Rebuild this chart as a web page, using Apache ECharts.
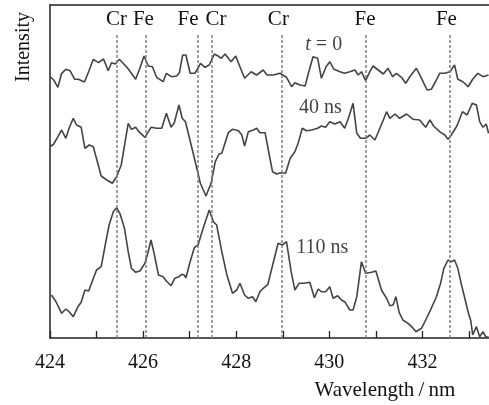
<!DOCTYPE html>
<html>
<head>
<meta charset="utf-8">
<script src="https://cdn.jsdelivr.net/npm/echarts@6/dist/echarts.min.js"></script>
<style>html,body{margin:0;padding:0;background:#fff}#c{width:489px;height:405px}</style>
</head>
<body>
<div id="c"></div>
<script>
// ---- data (wavelength in nm, intensity in arbitrary units) ----
var wl0 = [424.01,424.08,424.17,424.25,424.34,424.43,424.53,424.61,424.74,424.83,424.93,425.04,425.15,425.25,425.32,425.40,425.49,425.67,425.84,425.93,426.02,426.11,426.20,426.29,426.43,426.50,426.61,426.72,426.78,426.85,426.92,427.01,427.11,427.18,427.23,427.33,427.42,427.53,427.61,427.68,427.76,427.89,427.99,428.08,428.18,428.32,428.44,428.58,428.66,428.80,428.94,429.08,429.19,429.26,429.37,429.48,429.55,429.65,429.75,429.83,429.93,430.01,430.10,430.23,430.33,430.44,430.55,430.62,430.69,430.78,430.87,430.94,431.05,431.16,431.26,431.36,431.44,431.55,431.64,431.74,431.87,431.98,432.10,432.19,432.30,432.37,432.48,432.59,432.69,432.76,432.87,432.98,433.08,433.19,433.30,433.42];
var int0 = [261,258,250.7,264.7,268.7,267.3,258.7,258.7,256,266.3,278.7,275.3,279,267.3,275.3,274,278.7,269.7,258.7,269.7,282,272,271.3,260.7,256.3,264.7,261.3,262,265.3,283,283,264.7,264.7,269.7,274.7,270.7,273,284,282,279.7,284,276.3,282,271.3,259.7,266.3,263,268,263,263,264.7,260.7,251.3,255.3,253,252,264.7,281.3,279.7,259.7,271.3,276.3,268.7,266.3,264.7,266.3,268,263,266.3,257.3,266.3,272,268,264,269.7,261.3,264.7,260.7,254.7,262,269.7,259.7,248,248.7,258,264.7,264.7,266.3,273,258.7,256.3,251.3,258.7,264.7,261.3,263];

var wl40 = [424.01,424.08,424.17,424.25,424.34,424.41,424.50,424.57,424.67,424.75,424.84,424.93,425.10,425.22,425.34,425.43,425.53,425.68,425.75,425.84,425.91,426.04,426.17,426.29,426.40,426.50,426.60,426.67,426.77,426.84,426.91,427.12,427.23,427.35,427.46,427.55,427.63,427.69,427.83,427.92,428.05,428.12,428.18,428.26,428.37,428.44,428.51,428.62,428.71,428.78,428.87,428.96,429.06,429.16,429.26,429.33,429.42,429.51,429.62,429.75,429.83,429.92,430.01,430.12,430.23,430.33,430.41,430.51,430.59,430.67,430.78,430.87,430.98,431.07,431.16,431.23,431.30,431.41,431.51,431.66,431.80,431.94,432.07,432.16,432.24,432.37,432.48,432.55,432.62,432.74,432.86,432.96,433.07,433.16,433.23,433.30,433.37,433.42];
var int40 = [191.5,194,201.3,208,199.7,209.7,219.7,213,210.7,189.7,193,191.3,162,158,154.7,161.3,173,214.7,208.7,210.7,206.3,200.7,210.7,209.7,209.7,224.7,210.7,215.3,233,219.7,216.3,176.3,154.7,142,154.7,176.3,184,184.7,205.3,208.7,207.3,203,192,206.3,208,209.7,205.3,205.3,183,166.3,164,165.3,164.7,179.7,186.3,194.7,209.7,207.3,208,209.7,212,210.7,216.3,214,216.3,209.7,219.7,234.7,204.7,199.7,199.7,203,198,208,218,226.3,219.7,224,219.7,224,218.7,218,210.7,218,212,206.3,203,198.7,203,212,226.3,223,234.7,233,216.3,210.7,214,204.7];

var wl110 = [424.03,424.12,424.25,424.34,424.41,424.50,424.60,424.67,424.75,424.83,424.91,425.00,425.10,425.20,425.27,425.36,425.43,425.50,425.60,425.68,425.75,425.84,425.93,426.04,426.10,426.17,426.24,426.33,426.43,426.50,426.60,426.68,426.77,426.83,426.88,426.92,427.01,427.10,427.18,427.30,427.42,427.51,427.58,427.69,427.80,427.92,428.01,428.08,428.18,428.26,428.35,428.42,428.51,428.58,428.68,428.80,428.90,428.99,429.08,429.18,429.26,429.35,429.46,429.58,429.68,429.76,429.83,429.92,430.01,430.08,430.18,430.26,430.33,430.44,430.51,430.59,430.69,430.78,430.91,431.00,431.12,431.23,431.30,431.37,431.43,431.50,431.58,431.69,431.79,431.86,431.98,432.07,432.19,432.30,432.39,432.46,432.55,432.62,432.69,432.76,432.84,432.91,432.98,433.04,433.08,433.16,433.23,433.30,433.37,433.42];
var int110 = [43,37,24.7,29,26.3,21.3,31.3,35.7,48,47,57,68,71.3,96.3,113,126.3,130.3,124.7,109.7,86.3,69.7,65.7,67,74.7,84.7,98,83.7,63,61.3,57,52.3,59.7,61.3,63.7,63,60.3,76.3,90.3,93,111.3,128,116.3,113,86.3,63,44.7,48,54.7,43,39.7,41.3,36.3,46.3,49.7,53.7,76.3,94.7,93,96.3,66.3,48,54.7,54.7,55.7,40.3,49,46.3,46.3,51.3,39.7,42.3,38,36.3,28,28,41.3,76.3,64.7,65.7,67,48,39.7,32.3,33,41.3,25.7,18,14.7,10.3,6.3,9.7,18,29.7,41.3,54.7,69.7,78,76.3,78,69.7,53,39.7,26.3,17,3,11.3,1.3,6.3,0.5,1.3];

// emission lines
var lineWl = [425.43, 426.05, 427.18, 427.48, 428.97, 430.79, 432.58];
var lineEl = ['Cr', 'Fe', 'Fe', 'Cr', 'Cr', 'Fe', 'Fe'];
var lineLabelShift = [0, -2, -10, 4, -3, -1, -3];

// curve annotations
var annText = ['{i|t} = 0', '40 ns', '110 ns'];
var annWl = [429.88, 429.81, 429.85];
var annI = [293, 230, 90];

// axis
var xMin = 424, xMax = 433.43, yMin = 0, yMax = 333;

function zip(a, b) { return a.map(function (v, i) { return [v, b[i]]; }); }

var FONT = '"Liberation Serif", "DejaVu Serif", serif';
var lineStyle = { color: '#444', width: 1.6 };

var chart = echarts.init(document.getElementById('c'), null, { renderer: 'canvas' });
chart.setOption({
  animation: false,
  backgroundColor: '#fff',
  grid: { left: 50, top: 5, right: 0, bottom: 67, containLabel: false },
  xAxis: [{
    type: 'value', min: xMin, max: xMax, interval: 1,
    axisLine: { show: true, lineStyle: { color: '#222', width: 1.5 } },
    axisTick: { show: true, inside: true, length: 7, lineStyle: { color: '#222', width: 1.3 } },
    axisLabel: {
      show: true, color: '#111', fontFamily: FONT, fontSize: 20, margin: 15,
      showMaxLabel: false,
      formatter: function (v) {
        var r = Math.round(v);
        return (Math.abs(v - r) < 1e-6 && r % 2 === 0) ? String(r) : '';
      }
    },
    splitLine: { show: false }
  }, {
    type: 'value', position: 'top', min: xMin, max: xMax,
    axisLine: { show: true, lineStyle: { color: '#222', width: 1.5 } },
    axisTick: { show: false }, axisLabel: { show: false }, splitLine: { show: false }
  }],
  yAxis: {
    type: 'value', min: yMin, max: yMax,
    axisLine: { show: true, lineStyle: { color: '#222', width: 1.5 } },
    axisTick: { show: false }, axisLabel: { show: false }, splitLine: { show: false }
  },
  series: [{
    type: 'line', data: zip(wl0, int0), symbol: 'none', lineStyle: lineStyle, z: 3,
    markLine: {
      silent: true, symbol: ['none', 'none'], animation: false,
      lineStyle: { color: '#808080', type: [3, 2], width: 1.5 },
      label: { show: false },
      data: lineWl.map(function (w, i) {
        return [
          { coord: [w, yMin] },
          { coord: [w, 305],
            label: { show: true, position: 'end', formatter: lineEl[i], color: '#111',
                     fontFamily: FONT, fontSize: 21, distance: 3, offset: [lineLabelShift[i], 0] } }
        ];
      })
    }
  }, {
    type: 'line', data: zip(wl40, int40), symbol: 'none', lineStyle: lineStyle, z: 3
  }, {
    type: 'line', data: zip(wl110, int110), symbol: 'none', lineStyle: lineStyle, z: 3
  }, {
    type: 'scatter', symbolSize: 0, silent: true, z: 5,
    data: annWl.map(function (w, i) { return { value: [w, annI[i]], name: annText[i] }; }),
    label: {
      show: true, position: 'inside', color: '#111', fontFamily: FONT, fontSize: 20,
      formatter: function (p) { return p.name; },
      rich: { i: { fontStyle: 'italic', fontFamily: FONT, fontSize: 20, color: '#111' } }
    }
  }],
  graphic: [{
    type: 'text', x: 24, y: 47, rotation: Math.PI / 2,
    style: { text: 'Intensity', fill: '#111', font: '20px ' + FONT, textAlign: 'center', textVerticalAlign: 'middle' }
  }, {
    type: 'text', x: 385, y: 390,
    style: { text: 'Wavelength\u2009/\u2009nm', fill: '#111', font: '21px ' + FONT, textAlign: 'center', textVerticalAlign: 'middle' }
  }]
});
</script>
</body>
</html>
